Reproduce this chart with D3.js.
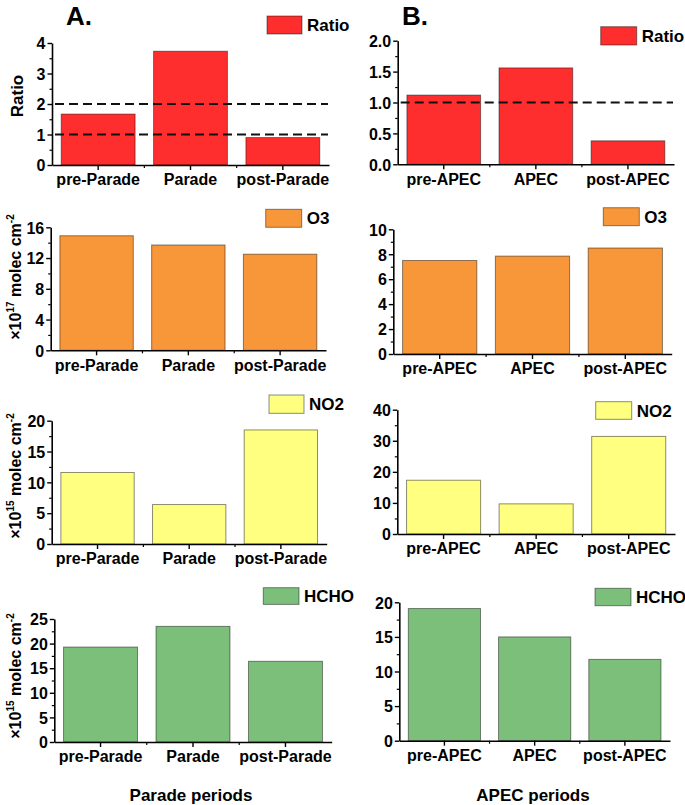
<!DOCTYPE html>
<html lang="en">
<head>
<meta charset="utf-8">
<title>Parade / APEC columns</title>
<script src="https://cdn.jsdelivr.net/npm/d3@7"></script>
<style>
  body { margin: 0; background: #fff; }
  svg text { font-family: "Liberation Sans", Arial, sans-serif; font-weight: bold; fill: #000; }
</style>
</head>
<body>
<svg id="chart" width="685" height="805"></svg>
<script>
// ---- data ----
var paradeCats = ["pre-Parade", "Parade", "post-Parade"];
var apecCats = ["pre-APEC", "APEC", "post-APEC"];

var ratioParade = [1.67, 3.73, 0.90];
var o3Parade = [14.9, 13.7, 12.5];
var no2Parade = [11.6, 6.4, 18.5];
var hchoParade = [19.3, 23.5, 16.4];

var ratioApec = [1.12, 1.56, 0.38];
var o3Apec = [7.5, 7.85, 8.5];
var no2Apec = [17.3, 9.7, 31.4];
var hchoApec = [19.1, 15.0, 11.75];

var ratioTicksA = [0, 1, 2, 3, 4];
var o3TicksA = [0, 4, 8, 12, 16];
var no2TicksA = [0, 5, 10, 15, 20];
var hchoTicksA = [0, 5, 10, 15, 20, 25];
var ratioTicksB = [0, 0.5, 1, 1.5, 2];
var o3TicksB = [0, 2, 4, 6, 8, 10];
var no2TicksB = [0, 10, 20, 30, 40];
var hchoTicksB = [0, 5, 10, 15, 20];

var refLinesA = [1, 2];
var refLinesB = [1];

var seriesNames = ["Ratio", "O3", "NO2", "HCHO"];
var seriesColors = ["#ff2e2e", "#f8973a", "#ffff80", "#7cbf7a"];

// ---- layout (pixel geometry per panel) ----
var panels = [
  { cats: paradeCats, vals: ratioParade, ticks: ratioTicksA, minor: 0.5, fmt: "d", s: 0, refs: refLinesA,
    x0: 52, x1: 329, top: 43, bot: 165, lg: [267, 16, 35, 18], yl: { x: 23, y: 96, kind: "ratio" } },
  { cats: paradeCats, vals: o3Parade, ticks: o3TicksA, minor: 2, fmt: "d", s: 1,
    x0: 50.7, x1: 326, top: 227.3, bot: 350.3, lg: [265.7, 209.3, 36, 18], yl: { x: 21, y: 277, exp: "17" } },
  { cats: paradeCats, vals: no2Parade, ticks: no2TicksA, minor: 2.5, fmt: "d", s: 2,
    x0: 51.7, x1: 326.7, top: 420.7, bot: 544, lg: [269, 395, 35, 18.3], yl: { x: 21, y: 476, exp: "15" } },
  { cats: paradeCats, vals: hchoParade, ticks: hchoTicksA, minor: 2.5, fmt: "d", s: 3,
    x0: 54.3, x1: 331.7, top: 619, bot: 742, lg: [263.3, 587.7, 35.7, 16.7], yl: { x: 21, y: 676, exp: "15" } },
  { cats: apecCats, vals: ratioApec, ticks: ratioTicksB, minor: 0.25, fmt: ".1f", s: 0, refs: refLinesB,
    x0: 397.7, x1: 674, top: 40.7, bot: 164.3, lg: [600.7, 26.7, 36, 18.3] },
  { cats: apecCats, vals: o3Apec, ticks: o3TicksB, minor: 1, fmt: "d", s: 1,
    x0: 393.3, x1: 671.7, top: 229.3, bot: 354, lg: [603.3, 207.7, 36, 18] },
  { cats: apecCats, vals: no2Apec, ticks: no2TicksB, minor: 5, fmt: "d", s: 2,
    x0: 397.3, x1: 675, top: 409.7, bot: 534, lg: [595.7, 401.7, 36, 17.6] },
  { cats: apecCats, vals: hchoApec, ticks: hchoTicksB, minor: 2.5, fmt: "d", s: 3,
    x0: 399.3, x1: 670, top: 602.3, bot: 740.7, lg: [595, 588.3, 36, 17.4] }
];

var svg = d3.select("#chart");

panels.forEach(function (p) {
  var g = svg.append("g");
  var ymax = p.ticks[p.ticks.length - 1];

  var x = d3.scaleBand()
    .domain(p.cats)
    .range([p.x0, p.x1])
    .paddingInner(0.2)
    .paddingOuter(0.1);
  var y = d3.scaleLinear()
    .domain([0, ymax])
    .range([p.bot, p.top]);

  // bars
  g.selectAll("rect.bar")
    .data(p.vals)
    .enter()
    .append("rect")
    .attr("class", "bar")
    .attr("x", function (d, i) { return x(p.cats[i]); })
    .attr("width", x.bandwidth())
    .attr("y", function (d) { return y(d); })
    .attr("height", function (d) { return y(0) - y(d); })
    .attr("fill", seriesColors[p.s])
    .attr("stroke", "#000")
    .attr("stroke-opacity", 0.45)
    .attr("stroke-width", 1);

  // dashed reference lines
  if (p.refs) {
    g.selectAll("line.ref")
      .data(p.refs)
      .enter()
      .append("line")
      .attr("x1", p.x0 + 3)
      .attr("x2", p.x1 - 1)
      .attr("y1", function (d) { return y(d); })
      .attr("y2", function (d) { return y(d); })
      .attr("stroke", "#111")
      .attr("stroke-width", 1.8)
      .attr("stroke-dasharray", "9,5");
  }

  // minor y ticks
  var minorVals = d3.range(0, ymax + 1e-9, p.minor).filter(function (v) {
    return p.ticks.indexOf(+v.toFixed(6)) < 0;
  });
  g.append("g")
    .attr("transform", "translate(" + p.x0 + ",0)")
    .call(d3.axisLeft(y).tickValues(minorVals).tickSize(2.5).tickFormat(""))
    .call(function (a) { a.select(".domain").remove(); })
    .selectAll("line").attr("stroke-width", 1.2);

  // major y axis
  var ya = g.append("g")
    .attr("transform", "translate(" + p.x0 + ",0)")
    .call(d3.axisLeft(y).tickValues(p.ticks).tickSize(4.5).tickSizeOuter(0)
      .tickPadding(2).tickFormat(d3.format(p.fmt)));
  ya.select(".domain").attr("stroke-width", 1.6);
  ya.selectAll("line").attr("stroke-width", 1.4);
  ya.selectAll("text").style("font-size", "16px").attr("dy", "0.36em");

  // x axis: major ticks at categories, minor ticks at band boundaries
  var xa = g.append("g")
    .attr("transform", "translate(0," + p.bot + ")")
    .call(d3.axisBottom(x).tickSize(5).tickSizeOuter(0).tickPadding(4));
  xa.select(".domain").attr("stroke-width", 1.6);
  xa.selectAll("line").attr("stroke-width", 1.4);
  xa.selectAll("text").style("font-size", "16px");

  var bounds = p.cats.slice(1).map(function (c) {
    return x(c) - x.step() * x.paddingInner() / 2;
  });
  g.selectAll("line.mx")
    .data(bounds)
    .enter()
    .append("line")
    .attr("x1", function (d) { return d; })
    .attr("x2", function (d) { return d; })
    .attr("y1", p.bot)
    .attr("y2", p.bot + 3)
    .attr("stroke", "#000")
    .attr("stroke-width", 1.2);

  // legend
  g.append("rect")
    .attr("x", p.lg[0]).attr("y", p.lg[1])
    .attr("width", p.lg[2]).attr("height", p.lg[3])
    .attr("fill", seriesColors[p.s])
    .attr("stroke", "#000").attr("stroke-opacity", 0.45);
  g.append("text")
    .attr("x", p.lg[0] + p.lg[2] + 5)
    .attr("y", p.lg[1] + p.lg[3] / 2 + 6)
    .style("font-size", "17px")
    .text(seriesNames[p.s]);

  // y label
  if (p.yl) {
    var t = g.append("text")
      .attr("transform", "translate(" + p.yl.x + "," + p.yl.y + ") rotate(-90)")
      .attr("text-anchor", "middle")
      .style("font-size", "16px");
    if (p.yl.kind === "ratio") {
      t.style("font-size", "17px").text("Ratio");
    } else {
      t.append("tspan").text("\u00d710");
      t.append("tspan").attr("dy", "-7").style("font-size", "10px").text(p.yl.exp);
      t.append("tspan").attr("dy", "7").text(" molec cm");
      t.append("tspan").attr("dy", "-7").style("font-size", "10px").text("-2");
    }
  }
});

// column titles and period labels
svg.append("text").attr("x", 66).attr("y", 25).style("font-size", "26px").text("A.");
svg.append("text").attr("x", 402).attr("y", 25).style("font-size", "26px").text("B.");
svg.append("text").attr("x", 191).attr("y", 801).attr("text-anchor", "middle")
  .style("font-size", "17px").text("Parade periods");
svg.append("text").attr("x", 533).attr("y", 801).attr("text-anchor", "middle")
  .style("font-size", "17px").text("APEC periods");
</script>
</body>
</html>
